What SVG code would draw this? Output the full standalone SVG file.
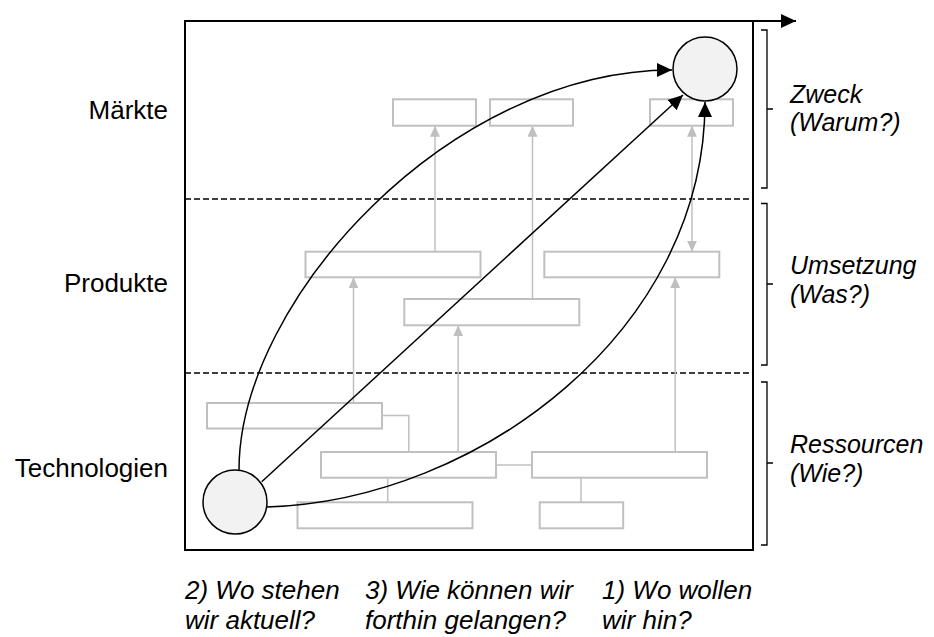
<svg xmlns="http://www.w3.org/2000/svg" width="934" height="637" viewBox="0 0 934 637">
<defs>
<marker id="ah" markerUnits="userSpaceOnUse" markerWidth="16" markerHeight="15" refX="15" refY="7" orient="auto"><path d="M0,0 L15,7 L0,14 z" fill="#000"/></marker>
<marker id="gh" markerUnits="userSpaceOnUse" markerWidth="12" markerHeight="11" refX="11" refY="5" orient="auto"><path d="M0,0 L11,5 L0,10 z" fill="#bfbfbf"/></marker>
<marker id="gs" markerUnits="userSpaceOnUse" markerWidth="12" markerHeight="11" refX="0" refY="5" orient="auto"><path d="M11,0 L0,5 L11,10 z" fill="#bfbfbf"/></marker>
</defs>
<style>
.box{fill:#fff;stroke:#c0c0c0;stroke-width:2}
.gl{fill:none;stroke:#c0c0c0;stroke-width:1.5}
.bl{fill:none;stroke:#000;stroke-width:1.5}
.circ{fill:#f2f2f2;stroke:#000;stroke-width:1.5}
.lbl{font-family:"Liberation Sans",Arial,sans-serif;font-size:26px;fill:#000}
.it{font-family:"Liberation Sans",Arial,sans-serif;font-size:26px;font-style:italic;fill:#000}
.rt{font-family:"Liberation Sans",Arial,sans-serif;font-size:25px;font-style:italic;fill:#000}
.br{fill:none;stroke:#000;stroke-width:1.3}
</style>
<g id="frame">
<rect x="185" y="21" width="568" height="529" fill="#fff" stroke="#000" stroke-width="2"/>
<line x1="753" y1="21" x2="796" y2="21" stroke="#000" stroke-width="2" marker-end="url(#ah)"/>
<line x1="185" y1="199" x2="753" y2="199" stroke="#000" stroke-width="1.3" stroke-dasharray="6,3"/>
<line x1="185" y1="373" x2="753" y2="373" stroke="#000" stroke-width="1.3" stroke-dasharray="6,3"/>
</g>
<g id="gray-connectors">
<line class="gl" x1="435" y1="251.7" x2="435" y2="125.7" marker-end="url(#gh)"/>
<line class="gl" x1="532.5" y1="299" x2="532.5" y2="125.7" marker-end="url(#gh)"/>
<line class="gl" x1="692" y1="125.7" x2="692" y2="251.7" marker-start="url(#gs)" marker-end="url(#gh)"/>
<line class="gl" x1="353.5" y1="403" x2="353.5" y2="277.3" marker-end="url(#gh)"/>
<line class="gl" x1="458.2" y1="452" x2="458.2" y2="325.3" marker-end="url(#gh)"/>
<line class="gl" x1="675.2" y1="452" x2="675.2" y2="277.3" marker-end="url(#gh)"/>
<polyline class="gl" points="381.7,415.5 408.8,415.5 408.8,452"/>
<line class="gl" x1="496" y1="465" x2="532" y2="465"/>
<line class="gl" x1="387.7" y1="477.7" x2="387.7" y2="502.3"/>
<line class="gl" x1="581" y1="477.7" x2="581" y2="502.3"/>
</g>
<g id="markets">
<rect id="m1" class="box" x="393" y="99.3" width="83" height="26.4"/>
<rect id="m2" class="box" x="490" y="99.3" width="83" height="26.4"/>
<rect id="m3" class="box" x="650" y="99.3" width="83" height="26.4"/>
</g>
<g id="products">
<rect id="pA" class="box" x="305.5" y="251.7" width="175" height="25.6"/>
<rect id="pB" class="box" x="544.3" y="251.7" width="175" height="25.6"/>
<rect id="pC" class="box" x="404.3" y="299" width="175" height="26.3"/>
</g>
<g id="technologies">
<rect id="t1" class="box" x="207" y="403" width="175" height="25.5"/>
<rect id="t2" class="box" x="321" y="452" width="175" height="25.7"/>
<rect id="t3" class="box" x="532" y="452" width="175" height="25.7"/>
<rect id="t4" class="box" x="297.5" y="502.3" width="175" height="26"/>
<rect id="t5" class="box" x="539.7" y="502.3" width="83.5" height="26"/>
</g>
<g id="connectors">
<path class="bl" d="M239,470 C239,300 450,70 672,70" marker-end="url(#ah)"/>
<path class="bl" d="M261.7,481.7 L683,95" marker-end="url(#ah)"/>
<path class="bl" d="M267,507 C480,500 705,330 705,102" marker-end="url(#ah)"/>
</g>
<g id="circle-goal"><circle class="circ" cx="705" cy="69" r="32"/></g>
<g id="circle-start"><circle class="circ" cx="235" cy="502" r="32"/></g>
<g id="brackets">
<path class="br" d="M761,30 H767 V188 H761 M767,109 H773"/>
<path class="br" d="M761,203.5 H767 V365 H761 M767,284 H773"/>
<path class="br" d="M761,382 H767 V545 H761 M767,463 H773"/>
</g>
<g id="row-labels">
<text class="lbl" x="168" y="119" text-anchor="end">Märkte</text>
<text class="lbl" x="168" y="292" text-anchor="end">Produkte</text>
<text class="lbl" x="168" y="477" text-anchor="end">Technologien</text>
</g>
<g id="level-labels">
<text class="rt" x="790" y="103">Zweck</text>
<text class="rt" x="790" y="131">(Warum?)</text>
<text class="rt" x="790" y="274">Umsetzung</text>
<text class="rt" x="790" y="303">(Was?)</text>
<text class="rt" x="790" y="453">Ressourcen</text>
<text class="rt" x="790" y="482">(Wie?)</text>
</g>
<g id="question-labels">
<text class="it" x="185" y="599">2) Wo stehen</text>
<text class="it" x="185" y="629">wir aktuell?</text>
<text class="it" x="365" y="599">3) Wie können wir</text>
<text class="it" x="365" y="629">forthin gelangen?</text>
<text class="it" x="602" y="599">1) Wo wollen</text>
<text class="it" x="602" y="629">wir hin?</text>
</g>
</svg>
